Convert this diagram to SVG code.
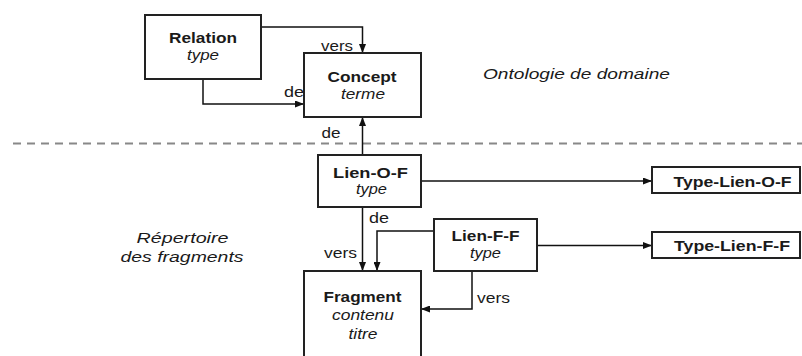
<svg xmlns="http://www.w3.org/2000/svg" width="802" height="356" viewBox="0 0 802 356">
<defs>
<marker id="ah" viewBox="0 0 9 7" refX="9" refY="3.5" markerWidth="9" markerHeight="7" markerUnits="userSpaceOnUse" orient="auto">
<path d="M0,0 L9,3.5 L0,7 Z" fill="#111"/>
</marker>
</defs>
<style>
.box{fill:#fff;stroke:#222;stroke-width:2}
.t{font-family:"Liberation Sans",Arial,sans-serif;fill:#1a1a1a;text-anchor:middle}
.b{font-weight:bold;font-size:14.5px}
.i{font-style:italic;font-size:14px}
.r{font-size:14px}
.c{fill:none;stroke:#111;stroke-width:1.5}
.a{marker-end:url(#ah)}
.sep{stroke:#888;stroke-width:2;stroke-dasharray:8,6}
</style>
<rect width="802" height="356" fill="#fff"/>
<line class="sep" x1="13" y1="143.5" x2="802" y2="143.5"/>
<text class="t i" x="576.5" y="79" font-size="15" textLength="187" lengthAdjust="spacingAndGlyphs">Ontologie de domaine</text>
<text class="t i" x="182.5" y="243" textLength="92" lengthAdjust="spacingAndGlyphs">Répertoire</text>
<text class="t i" x="182" y="261.5" textLength="123" lengthAdjust="spacingAndGlyphs">des fragments</text>
<g id="connectors">
<path class="c a" d="M261,27 H362.5 V53"/>
<path class="c a" d="M203,79 V104 H304"/>
<path class="c a" d="M362.5,155 V117"/>
<path class="c a" d="M421,181 H652"/>
<path class="c a" d="M362.5,207 V271"/>
<path class="c a" d="M434,231 H377 V271"/>
<path class="c a" d="M472,271 V309 H421"/>
<path class="c a" d="M537,245.5 H652"/>
<text class="t r" x="337" y="51" textLength="32" lengthAdjust="spacingAndGlyphs">vers</text>
<text class="t r" x="294" y="97" textLength="20" lengthAdjust="spacingAndGlyphs">de</text>
<text class="t r" x="331" y="138" textLength="19" lengthAdjust="spacingAndGlyphs">de</text>
<text class="t r" x="379" y="223" textLength="20" lengthAdjust="spacingAndGlyphs">de</text>
<text class="t r" x="340.5" y="258" textLength="33" lengthAdjust="spacingAndGlyphs">vers</text>
<text class="t r" x="493.5" y="303" textLength="33" lengthAdjust="spacingAndGlyphs">vers</text>
</g>
<g id="relation">
<rect class="box" x="145" y="15" width="116" height="64"/>
<text class="t b" x="203" y="43" textLength="68" lengthAdjust="spacingAndGlyphs">Relation</text>
<text class="t i" x="203" y="60" textLength="32" lengthAdjust="spacingAndGlyphs">type</text>
</g>
<g id="concept">
<rect class="box" x="304" y="53" width="117" height="64"/>
<text class="t b" x="362" y="82" textLength="69" lengthAdjust="spacingAndGlyphs">Concept</text>
<text class="t i" x="363" y="99" textLength="44" lengthAdjust="spacingAndGlyphs">terme</text>
</g>
<g id="lien-o-f">
<rect class="box" x="318" y="155" width="103" height="52"/>
<text class="t b" x="370.5" y="177.5" textLength="75" lengthAdjust="spacingAndGlyphs">Lien-O-F</text>
<text class="t i" x="371.5" y="194" textLength="31" lengthAdjust="spacingAndGlyphs">type</text>
</g>
<g id="lien-f-f">
<rect class="box" x="434" y="219" width="103" height="52"/>
<text class="t b" x="485.5" y="241" textLength="68" lengthAdjust="spacingAndGlyphs">Lien-F-F</text>
<text class="t i" x="485.5" y="258" textLength="31" lengthAdjust="spacingAndGlyphs">type</text>
</g>
<g id="fragment">
<rect class="box" x="304" y="271" width="117" height="100"/>
<text class="t b" x="362.5" y="301.5" textLength="78" lengthAdjust="spacingAndGlyphs">Fragment</text>
<text class="t i" x="363" y="320" textLength="62" lengthAdjust="spacingAndGlyphs">contenu</text>
<text class="t i" x="363" y="339" textLength="29" lengthAdjust="spacingAndGlyphs">titre</text>
</g>
<g id="type-lien-o-f">
<rect class="box" x="652" y="167" width="148" height="26"/>
<text class="t b" x="732.5" y="186.5" textLength="118" lengthAdjust="spacingAndGlyphs">Type-Lien-O-F</text>
</g>
<g id="type-lien-f-f">
<rect class="box" x="652" y="232" width="148" height="26"/>
<text class="t b" x="732" y="251" textLength="116" lengthAdjust="spacingAndGlyphs">Type-Lien-F-F</text>
</g>
</svg>
